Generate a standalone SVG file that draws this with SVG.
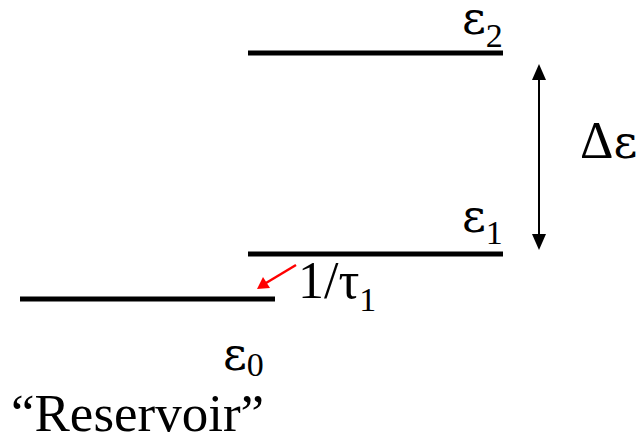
<svg xmlns="http://www.w3.org/2000/svg" width="641" height="441" viewBox="0 0 641 441">
<style>
.lvl{stroke:#000;stroke-width:5;fill:none}
text{font-family:"Liberation Serif","Times New Roman",serif;fill:#000}
.big{font-size:52px}
.res{font-size:53px}
.sub{font-size:34px}
.lab{font-family:"DejaVu Serif","Liberation Serif",serif;font-size:46px}
.eps{font-family:"DejaVu Serif","Liberation Serif",serif;font-size:46px}
</style>
<g id="level2">
<line class="lvl" x1="248" y1="53" x2="503" y2="53"/>
<text class="lab" x="462" y="34">ε<tspan class="sub" font-family="Liberation Serif, serif" dy="13">2</tspan></text>
</g>
<g id="level1">
<line class="lvl" x1="248" y1="254" x2="503" y2="254"/>
<text class="lab" x="462" y="232">ε<tspan class="sub" font-family="Liberation Serif, serif" dy="12">1</tspan></text>
</g>
<g id="level0">
<line class="lvl" x1="20" y1="299" x2="275" y2="299"/>
<text class="lab" x="223" y="370">ε<tspan class="sub" font-family="Liberation Serif, serif" dy="6">0</tspan></text>
</g>
<g id="reservoir">
<text class="res" x="11" y="431">“Reservoir”</text>
</g>
<g id="delta">
<text class="big" x="580" y="158">Δ<tspan class="eps">ε</tspan></text>
</g>
<g id="rate">
<text class="big" x="298" y="298">1/τ<tspan class="sub" dy="13">1</tspan></text>
</g>
<g id="connectors">
<line x1="539" y1="78" x2="539" y2="236" stroke="#000" stroke-width="2"/>
<path d="M539,64 L532,80 L546,80 Z" fill="#000"/>
<path d="M539,250 L532,234 L546,234 Z" fill="#000"/>
<line x1="296" y1="265" x2="266" y2="283" stroke="#ff0000" stroke-width="2.5"/>
<path d="M257,289 L263,277 L270,288 Z" fill="#ff0000"/>
</g>
</svg>
